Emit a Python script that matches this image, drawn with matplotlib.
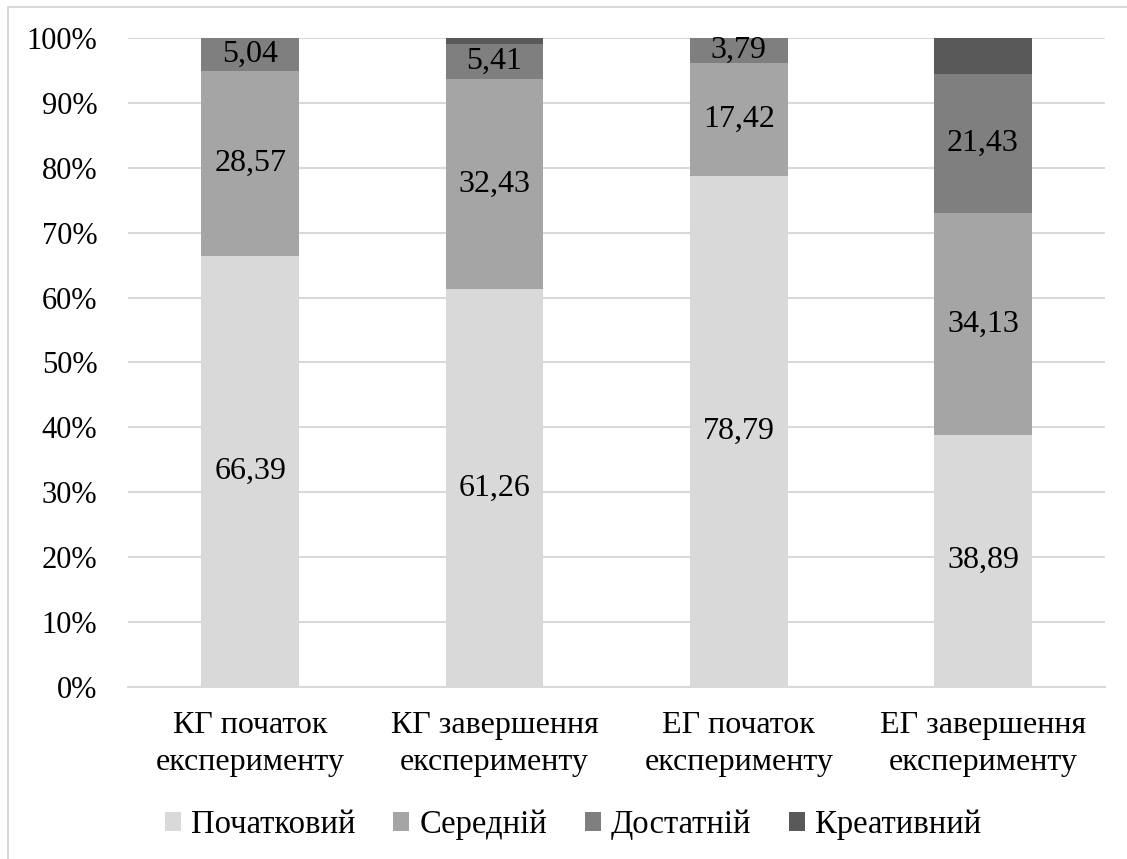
import numpy as np
import matplotlib.pyplot as plt
from matplotlib.patches import Rectangle

plt.rcParams['font.family'] = ['Liberation Serif', 'DejaVu Serif']

groups = ['КГ початок\nексперименту', 'КГ завершення\nексперименту',
          'ЕГ початок\nексперименту', 'ЕГ завершення\nексперименту']
levels = ['Початковий', 'Середній', 'Достатній', 'Креативний']
initial = [66.39, 61.26, 78.79, 38.89]
medium = [28.57, 32.43, 17.42, 34.13]
sufficient = [5.04, 5.41, 3.79, 21.43]
creative = [0.0, 0.90, 0.0, 5.55]
colors = ['#D9D9D9', '#A5A5A5', '#7F7F7F', '#595959']

fig = plt.figure(figsize=(11.27, 8.59), dpi=100)
ax = fig.add_axes([0.1136, 0.2002, 0.867, 0.7556])

# outer chart frame
fig.patches.append(Rectangle((8 / 1127, -0.01), 1.02, 1 - 7 / 859 + 0.01,
                             transform=fig.transFigure, fill=False,
                             edgecolor='#D9D9D9', linewidth=1.5))

x = np.arange(len(groups))
bottom = np.zeros(len(groups))
series = [initial, medium, sufficient, creative]
for k, (vals, name, col) in enumerate(zip(series, levels, colors)):
    vals = np.array(vals)
    ax.bar(x, vals, 0.4, bottom=bottom, color=col, label=name, zorder=3)
    if k < 3:
        for xi, b, v in zip(x, bottom, vals):
            if v > 0:
                ax.text(xi, b + v / 2, f'{v:.2f}'.replace('.', ','),
                        ha='center', va='center', fontsize=23, zorder=4)
    bottom += vals

ax.set_xlim(-0.5, 3.5)
ax.set_ylim(0, 100)
ax.set_yticks(np.arange(0, 101, 10))
ax.set_yticklabels([f'{v}%' for v in range(0, 101, 10)], fontsize=22)
ax.set_xticks(x)
ax.set_xticklabels(groups, fontsize=23, linespacing=1.4)
ax.tick_params(length=0)
ax.tick_params(axis='x', pad=17)
ax.tick_params(axis='y', pad=22)
ax.grid(axis='y', color='#D9D9D9', linewidth=1.5, zorder=0)
for s in ['top', 'right', 'left']:
    ax.spines[s].set_visible(False)
ax.spines['bottom'].set_color('#D9D9D9')
ax.spines['bottom'].set_linewidth(1.5)

ax.legend(loc='center', bbox_to_anchor=(573 / 1127, 1 - 825 / 859),
          bbox_transform=fig.transFigure, ncol=4, frameon=False,
          fontsize=23.5, handlelength=0.5, handleheight=0.5, handletextpad=0.3,
          columnspacing=1.15)

fig.savefig('out.png', dpi=100)
